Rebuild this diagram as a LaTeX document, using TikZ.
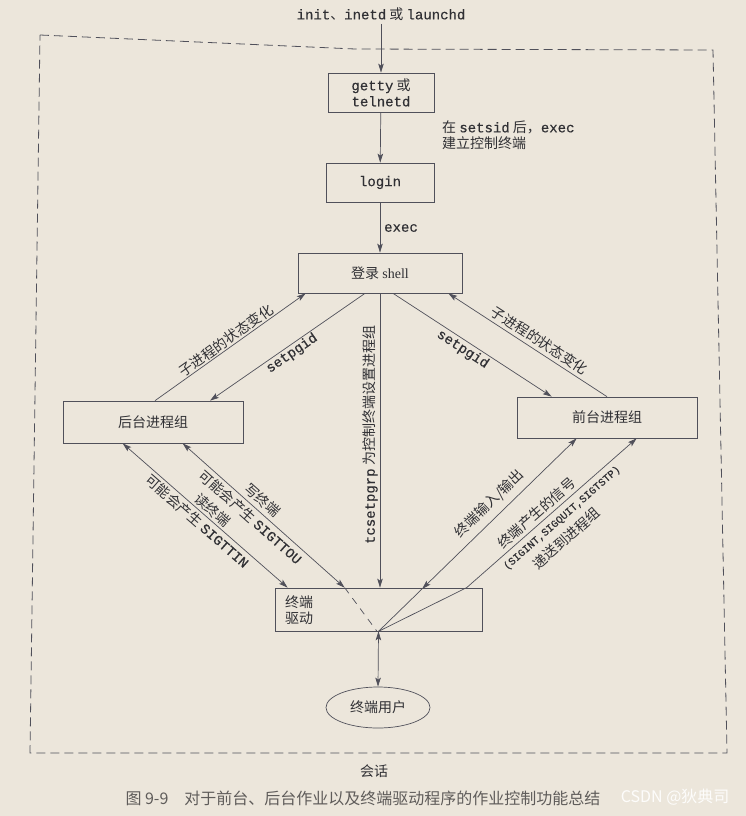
\documentclass[tikz,border=0pt]{standalone}
\usepackage{fontspec}
\setmainfont{Noto Sans CJK SC}
\setmonofont{Liberation Mono}[RawFeature={embolden=0.4}]
\newfontfamily\serifshell{Liberation Serif}
\usetikzlibrary{arrows.meta,calc,shapes.geometric}
\definecolor{paper}{RGB}{236,230,219}
\definecolor{ink}{RGB}{48,48,52}
\definecolor{wirec}{RGB}{80,80,90}
\definecolor{capink}{RGB}{95,92,90}
\newcommand\mymono[1]{{\fontsize{14}{16}\selectfont\ttfamily #1}}
\newcommand\smallmono[1]{{\fontsize{10.5}{12}\selectfont\ttfamily #1}}
\begin{document}
\begin{tikzpicture}[x=1pt,y=-1pt,
  >={Stealth[length=9pt,width=5.5pt,inset=2pt]},
  every node/.style={text=ink, font=\fontsize{14}{16}\selectfont},
  box/.style={draw=wirec, line width=0.7pt, inner sep=0pt},
  conn/.style={draw=wirec, line width=0.7pt},
  lbl/.style={inner sep=0pt, sloped}]
\fill[paper] (0,0) rectangle (746,816);
\useasboundingbox (0,0) rectangle (746,816);

% session boundary
\draw[wirec, line width=0.8pt, dash pattern=on 9pt off 5pt]
  (40,35) -- (355,49) -- (713,50) -- (727,753) -- (30,753) -- cycle;

% nodes
\node (src) at (381,14) {\mymono{init}、\mymono{inetd} 或 \mymono{launchd}};
\node[box, minimum width=106, minimum height=39, align=center] (getty) at (381,92.5) {\mymono{getty} 或\\\mymono{telnetd}};
\node[box, minimum width=108, minimum height=39] (login) at (380,182.5) {\mymono{login}};
\node[box, minimum width=164, minimum height=40] (shell) at (380,273) {登录 {\serifshell shell}};
\node[box, minimum width=180, minimum height=42] (bg) at (153,422) {后台进程组};
\node[box, minimum width=180, minimum height=41] (fg) at (607,417.5) {前台进程组};
\node[box, minimum width=207, minimum height=43] (drv) at (378.5,609.5) {};
\node[anchor=west, align=left, inner sep=0pt] (drvlbl) at (285,610) {终端\\驱动};
\node[draw=wirec, line width=0.7pt, ellipse, minimum width=104, minimum height=41, inner sep=0pt] (user) at (378,707.5) {终端用户};

\node[anchor=west, align=left, inner sep=0pt] (note) at (442,135) {在 \mymono{setsid} 后，\mymono{exec}\\建立控制终端};
\node[anchor=west, inner sep=0pt] (execl) at (384,228) {\mymono{exec}};
\node (session) at (374,771) {会话};
\node[anchor=west, text=capink, font=\fontsize{16}{18}\selectfont] (cap) at (122,798) {图 9-9\quad 对于前台、后台作业以及终端驱动程序的作业控制功能总结};
\node[anchor=east, text=white, opacity=0.9, font=\fontsize{16}{18}\selectfont] (wm) at (733,797) {CSDN @狄典司};

% anchor points
\coordinate (shA) at ($(shell.south)+(-15,0)$);
\coordinate (shB) at ($(shell.south west)+(8,0)$);
\coordinate (shC) at ($(shell.south)+(13,0)$);
\coordinate (shD) at ($(shell.south east)+(-14,0)$);
\coordinate (bgA) at ($(bg.north)+(2,0)$);
\coordinate (bgB) at ($(bg.north)+(57,0)$);
\coordinate (bgC) at ($(bg.south west)+(60,0)$);
\coordinate (bgD) at ($(bg.south west)+(120,0)$);
\coordinate (fgA) at ($(fg.north west)+(35,0)$);
\coordinate (fgB) at (fg.north);
\coordinate (fgC) at ($(fg.south west)+(60,0)$);
\coordinate (fgD) at ($(fg.south west)+(120,0)$);
\coordinate (drA) at ($(drv.north west)+(13,0)$);
\coordinate (drB) at ($(drv.north west)+(70,0)$);
\coordinate (drK) at ($(drv.north west)+(192,0)$);
\coordinate (drP) at (drv.south);
\coordinate (drQ) at ($(drv.south)+(-1.5,0)$);

% vertical chain
\draw[conn,->] (src) -- (getty);
\draw[conn,->] (getty) -- (login);
\draw[conn,->] (login) -- (shell);

% shell <-> background
\draw[conn,->] (bgA) -- node[lbl, above=1pt, pos=0.5] {子进程的状态变化} (shB);
\draw[conn,->] (shA) -- node[lbl, below=1pt, pos=0.5] {\mymono{setpgid}} (bgB);

% tcsetpgrp
\draw[conn,->] (shell.south) -- node[rotate=90, anchor=south, inner sep=2pt, pos=0.48] {\mymono{tcsetpgrp} 为控制终端设置进程组} (shell.south |- drv.north);

% shell <-> foreground
\draw[conn,->] (shC) -- node[lbl, below=2pt, pos=0.47] {\mymono{setpgid}} (fgA);
\draw[conn,->] (fgB) -- node[lbl, above=3.5pt, pos=0.46] {子进程的状态变化} (shD);

% background <-> driver
\draw[conn,<->] (bgC) -- node[lbl, above=2pt, pos=0.51] {读终端} node[lbl, below=2.5pt, pos=0.49] {可能会产生 \mymono{SIGTTIN}} (drA);
\draw[conn,<->] (bgD) -- node[lbl, above=4pt, pos=0.45] {写终端} node[lbl, below=3pt, pos=0.46] {可能会产生 \mymono{SIGTTOU}} (drB);
\draw[conn, dash pattern=on 7pt off 6pt] (drB) -- (drQ);

% driver <-> foreground
\coordinate (ioT) at ($(fgC)!0.78!(drP)$);
\draw[conn,<->] (fgC) -- (ioT);
\draw[conn] (ioT) -- (drP);
\path (drP) -- node[lbl, above=6.5pt, pos=0.61] {终端输入/输出} (fgC);
\draw[conn,->] (drP) -- (drK) -- node[lbl, above=3pt, pos=0.45] {终端产生的信号}
  node[lbl, below=5.5pt, pos=0.52] {\smallmono{(SIGINT,SIGQUIT,SIGTSTP)}}
  node[lbl, below=22pt, pos=0.475] {递送到进程组} (fgD);

% driver <-> user
\draw[conn,<->] (drv.south) -- (user.north);
\end{tikzpicture}
\end{document}
